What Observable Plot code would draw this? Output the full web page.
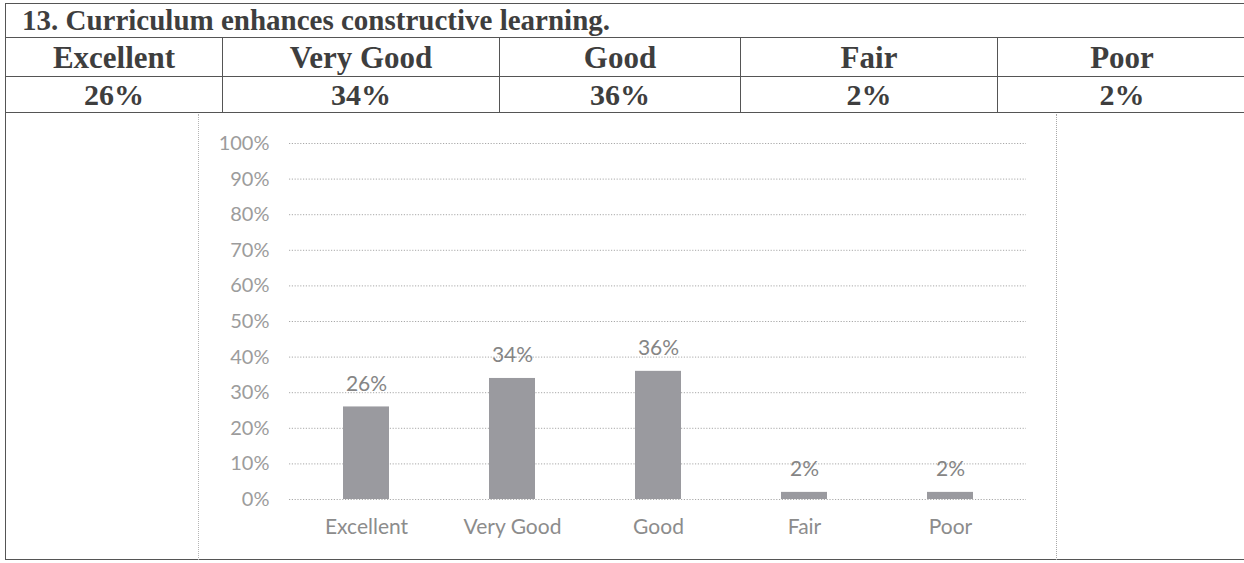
<!DOCTYPE html>
<html>
<head>
<meta charset="utf-8">
<script src="https://cdn.jsdelivr.net/npm/d3@7"></script>
<script src="https://cdn.jsdelivr.net/npm/@observablehq/plot@0.6"></script>
<style>
  html, body { margin: 0; padding: 0; background: #fff; overflow: hidden; width: 1244px; height: 563px; }
  #page { position: relative; width: 1244px; height: 563px; }
  table.doc {
    position: absolute; left: 5px; top: 3px;
    border-collapse: collapse; table-layout: fixed;
    font-family: "Liberation Serif", "Times New Roman", serif;
    font-weight: bold; color: #3e3e3e;
  }
  table.doc td { border: 1.5px solid #555; padding: 0; text-align: center; overflow: hidden; white-space: nowrap; line-height: 1; }
  table.doc td.title { text-align: left; font-size: 29px; height: 33px; padding-left: 16px; }
  table.doc tr.head td { font-size: 31px; height: 38px; }
  table.doc tr.vals td { font-size: 30px; height: 35px; }
  table.doc td.chartcell { height: 446px; }
  #chart {
    position: absolute; left: 198px; top: 114px; width: 857px; height: 446px;
    border-left: 1px dotted #b5b5b5; border-right: 1.5px dotted #a8a8a8;
  }
</style>
</head>
<body>
<div id="page">
  <table class="doc" id="doc"></table>
  <div id="chart"></div>
</div>
<script>
const title = "13. Curriculum enhances constructive learning.";
const categories = ["Excellent", "Very Good", "Good", "Fair", "Poor"];
const values = [0.26, 0.34, 0.36, 0.02, 0.02];
const valueLabels = ["26%", "34%", "36%", "2%", "2%"];
const yTicks = [0, 0.1, 0.2, 0.3, 0.4, 0.5, 0.6, 0.7, 0.8, 0.9, 1.0];
const colWidths = [217, 277, 241, 257, 249];

// Table
const table = document.getElementById("doc");
const cg = document.createElement("colgroup");
colWidths.forEach(w => { const c = document.createElement("col"); c.style.width = w + "px"; cg.appendChild(c); });
table.appendChild(cg);
table.style.width = d3.sum(colWidths) + "px";
const tr0 = table.insertRow();
const tc = tr0.insertCell(); tc.colSpan = 5; tc.className = "title"; tc.textContent = title;
const tr1 = table.insertRow(); tr1.className = "head";
categories.forEach(c => { tr1.insertCell().textContent = c; });
const tr2 = table.insertRow(); tr2.className = "vals";
valueLabels.forEach(v => { tr2.insertCell().textContent = v; });
const tr3 = table.insertRow();
const cc = tr3.insertCell(); cc.colSpan = 5; cc.className = "chartcell";

// Chart
const data = categories.map((c, i) => ({category: c, value: values[i], label: valueLabels[i]}));
const font = "Lato, 'Open Sans', sans-serif";
const chart = Plot.plot({
  width: 857,
  height: 446,
  marginLeft: 90,
  marginRight: 30,
  marginTop: 29,
  marginBottom: 61,
  style: {fontFamily: font, background: "transparent"},
  x: {domain: categories, paddingInner: 0.686, paddingOuter: 0.36, label: null},
  y: {domain: [0, 1], label: null},
  marks: [
    Plot.ruleY(yTicks, {stroke: "#a9a9a9", strokeWidth: 1, strokeDasharray: "1.2,1.6"}),
    Plot.barY(data, {x: "category", y: "value", fill: "#9a9a9f"}),
    Plot.text(data, {x: "category", y: "value", text: "label", dy: -23, fill: "#858585", fontSize: 21, fontFamily: font}),
    Plot.axisY({ticks: yTicks, tickSize: 0, tickPadding: 20, tickFormat: d => Math.round(d * 100) + "%", fill: "#9c9c9c", fontSize: 20, fontFamily: font}),
    Plot.axisX({tickSize: 0, tickPadding: 20, fill: "#8c8c8c", fontSize: 21, fontFamily: font})
  ]
});
document.getElementById("chart").appendChild(chart);
</script>
</body>
</html>
